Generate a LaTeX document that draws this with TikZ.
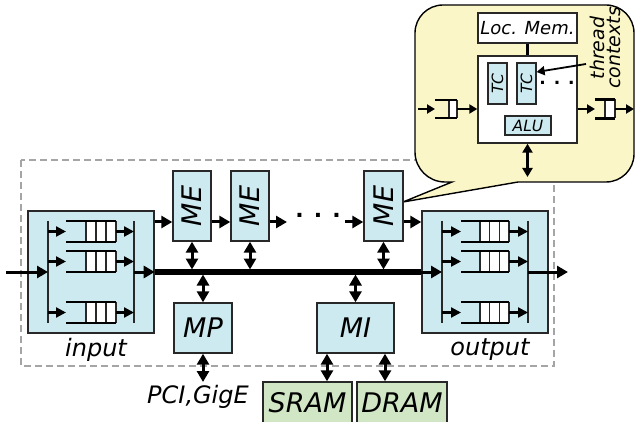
\documentclass[tikz,border=0pt]{standalone}
\usepackage{fontspec}
\usepackage{graphicx}
\setmainfont{DejaVu Sans}[ItalicFont={DejaVu Sans Oblique},BoldFont={DejaVu Sans Bold},BoldItalicFont={DejaVu Sans Bold Oblique}]
\usetikzlibrary{arrows.meta,calc}
\definecolor{blueF}{RGB}{205,234,240}
\definecolor{greenF}{RGB}{208,230,196}
\definecolor{yellowF}{RGB}{250,246,200}
\definecolor{edgeC}{RGB}{40,40,40}
\definecolor{dashC}{RGB}{165,165,165}
\tikzset{
  blk/.style={draw=edgeC, fill=blueF, line width=1.4pt, inner sep=0pt, font=\fontsize{27}{27}\selectfont\itshape},
  memblk/.style={blk, fill=greenF},
  wbox/.style={draw=edgeC, fill=white, line width=1.4pt, inner sep=0pt},
  sblk/.style={draw=edgeC, fill=blueF, line width=1.2pt, inner sep=0pt, font=\fontsize{15.5}{15.5}\selectfont\itshape},
  arr/.style={line width=3pt, -{Triangle[length=11pt,width=12pt]}},
  darr/.style={line width=3pt, {Triangle[length=11pt,width=12pt]}-{Triangle[length=11pt,width=12pt]}},
  iarr/.style={line width=2.3pt, -{Triangle[length=10pt,width=10pt]}},
  sarr/.style={line width=2pt, -{Triangle[length=8pt,width=9pt]}},
  sdarr/.style={line width=2.5pt, {Triangle[length=9pt,width=10pt]}-{Triangle[length=9pt,width=10pt]}},
  bus/.style={line width=5.5pt},
  vbar/.style={line width=1.5pt, draw=edgeC},
  qnode/.style={shape=rectangle, inner sep=0pt, outer sep=0pt, draw=none},
  qedge/.style={line width=2.4pt, draw=black},
  qdiv/.style={line width=1.3pt, draw=edgeC},
  lbl/.style={font=\fontsize{24}{24}\selectfont\itshape, inner sep=0pt},
  dashbox/.style={draw=dashC, line width=2.2pt, dash pattern=on 7pt off 4pt},
  callout/.style={draw=black, fill=yellowF, line width=1.4pt},
}
\newcommand{\mkqueue}[7]{%
  \node[qnode, minimum width=#4pt, minimum height=#5pt] (#1) at (#2,#3) {};
  \fill[white] ($(#1.north east)-(#6*#7,0)$) rectangle (#1.south east);
  \foreach \k in {0,...,#6} {\draw[qdiv] ($(#1.north east)-(\k*#7,0)$) -- ($(#1.south east)-(\k*#7,0)$);}
  \draw[qedge] (#1.north west) -- (#1.north east) (#1.south west) -- (#1.south east);
}
\begin{document}
\begin{tikzpicture}[x=1pt,y=-1pt]
\useasboundingbox (0,0) rectangle (637,422);

% dashed chip outline
\draw[dashbox] (21,160) rectangle (554,366);

% callout
\draw[callout] (443,5) -- (606,5) arc[start angle=-90,end angle=0,radius=28]
  -- (634,154) arc[start angle=0,end angle=90,radius=28]
  -- (518,182) -- (403,202) -- (452,182) -- (445,182)
  arc[start angle=90,end angle=180,radius=30]
  -- (415,33) arc[start angle=180,end angle=270,radius=28] -- cycle;

% ---------- main blocks ----------
\node[blk, minimum width=126pt, minimum height=122pt] (input) at (91,272) {};
\node[blk, minimum width=126pt, minimum height=122pt] (output) at (485,272) {};
\node[lbl] (inlbl) at (96,350) {input};
\node[lbl] (outlbl) at (490,350) {output};

\node[blk, minimum width=38pt, minimum height=70pt] (ME1) at (192,206) {\rotatebox{90}{ME}};
\node[blk, minimum width=38pt, minimum height=70pt] (ME2) at (250,206) {\rotatebox{90}{ME}};
\node[blk, minimum width=39pt, minimum height=70pt] (ME3) at (383.5,206) {\rotatebox{90}{ME}};
\node[font=\fontsize{22}{22}\selectfont\bfseries, inner sep=0pt] (dots) at (318,215) {. . .};

\node[blk, minimum width=58pt, minimum height=50pt] (MP) at (203,328) {MP};
\node[blk, minimum width=77pt, minimum height=50pt] (MI) at (355.5,328) {MI};
\node[memblk, minimum width=89pt, minimum height=42pt] (SRAM) at (307.5,403) {SRAM};
\node[memblk, minimum width=90pt, minimum height=42pt] (DRAM) at (402,403) {DRAM};
\node[lbl] (pci) at (198,397) {PCI,GigE};

% ---------- queues ----------
\mkqueue{qi1}{91}{231.5}{50}{21}{3}{10}
\mkqueue{qi2}{91}{261.5}{50}{21}{3}{10}
\mkqueue{qi3}{91}{312.5}{50}{21}{3}{10}
\mkqueue{qo1}{485}{231.5}{48}{21}{3}{9.67}
\mkqueue{qo2}{485}{261.5}{48}{21}{3}{9.67}
\mkqueue{qo3}{485}{312.5}{48}{21}{3}{9.67}

\coordinate (inL) at (48,272);
\coordinate (inR) at (134,272);
\coordinate (outL) at (442,272);
\coordinate (outR) at (528,272);
\coordinate (src) at (6,272);
\coordinate (sink) at (568,272);

\draw[vbar] (inL |- qi1.north) -- (inL |- qi3.south);
\draw[vbar] (inR |- qi1.north) -- (inR |- qi3.south);
\draw[vbar] (outL |- qo1.north) -- (outL |- qo3.south);
\draw[vbar] (outR |- qo1.north) -- (outR |- qo3.south);

\foreach \q in {qi1,qi2,qi3} {
  \draw[iarr] (inL |- \q.center) -- (\q.west);
  \draw[iarr] (\q.east) -- (inR |- \q.center);
}
\foreach \q in {qo1,qo2,qo3} {
  \draw[iarr] (outL |- \q.center) -- (\q.west);
  \draw[iarr] (\q.east) -- (outR |- \q.center);
}

% ---------- bus and flow ----------
\draw[arr] (src) -- (inL);
\draw[arr] (inR) -- (input.east);
\draw[bus] (input.east) -- (output.west);
\draw[arr] (output.west) -- (outL);
\draw[arr] (outR) -- (sink);

\coordinate (rowME) at (0,222);
\coordinate (dA) at (287,222);
\coordinate (dB) at (345,222);
\draw[arr] (input.east |- rowME) -- (ME1.west |- rowME);
\draw[arr] (ME1.east |- rowME) -- (ME2.west |- rowME);
\draw[arr] (ME2.east |- rowME) -- (dA);
\draw[arr] (dB) -- (ME3.west |- rowME);
\draw[arr] (ME3.east |- rowME) -- (output.west |- rowME);

\coordinate (busTop) at (0,269.5);
\coordinate (busBot) at (0,274.5);
\draw[darr] (ME1.south) -- (ME1.south |- busTop);
\draw[darr] (ME2.south) -- (ME2.south |- busTop);
\draw[darr] (ME3.south) -- (ME3.south |- busTop);
\draw[darr] (MP.north |- busBot) -- (MP.north);
\draw[darr] (MI.north |- busBot) -- (MI.north);

\coordinate (pciEnd) at (203,382);
\draw[darr] (MP.south) -- (pciEnd);
\coordinate (xs) at (327,0);
\coordinate (xd) at (385,0);
\draw[darr] (MI.south -| xs) -- (SRAM.north -| xs);
\draw[darr] (MI.south -| xd) -- (DRAM.north -| xd);

% ---------- callout contents ----------
\node[wbox, minimum width=99pt, minimum height=30pt, font=\fontsize{18}{18}\selectfont\itshape] (locmem) at (527.5,28) {Loc. Mem.};
\node[wbox, minimum width=99pt, minimum height=87pt] (core) at (527.5,99.5) {};
\draw[line width=2.6pt] (locmem.south) -- (core.north);
\node[sblk, minimum width=19pt, minimum height=41pt] (TC1) at (497.5,83.5) {\rotatebox{90}{TC}};
\node[sblk, minimum width=19pt, minimum height=41pt] (TC2) at (526.5,83.5) {\rotatebox{90}{TC}};
\node[sblk, minimum width=46pt, minimum height=19pt] (ALU) at (528,125.5) {ALU};
\node[font=\fontsize{17}{17}\selectfont\bfseries, inner sep=0pt] (tdots) at (557,83) {. . .};

\mkqueue{qc1}{446}{109}{22}{18}{1}{8}
\mkqueue{qc2}{605}{109}{20}{19}{1}{10}
\coordinate (cin) at (418,109);
\coordinate (cout) at (634,109);
\draw[sarr] (cin) -- (qc1.west);
\draw[sarr] (qc1.east) -- (core.west |- qc1.center);
\draw[sarr] (core.east |- qc2.center) -- (qc2.west);
\draw[sarr] (qc2.east) -- (cout);
\coordinate (cbot) at (527.5,177);
\draw[sdarr] (core.south) -- (cbot);

\node[rotate=90, align=center, inner sep=0pt, font=\fontsize{19}{16}\selectfont\itshape] (thr) at (605,48) {thread\\contexts};
\coordinate (tsrc) at (586,64);
\coordinate (tdst) at (0,72);
\draw[sarr, line width=1.8pt] (tsrc) -- (TC2.east |- tdst);
\end{tikzpicture}
\end{document}
